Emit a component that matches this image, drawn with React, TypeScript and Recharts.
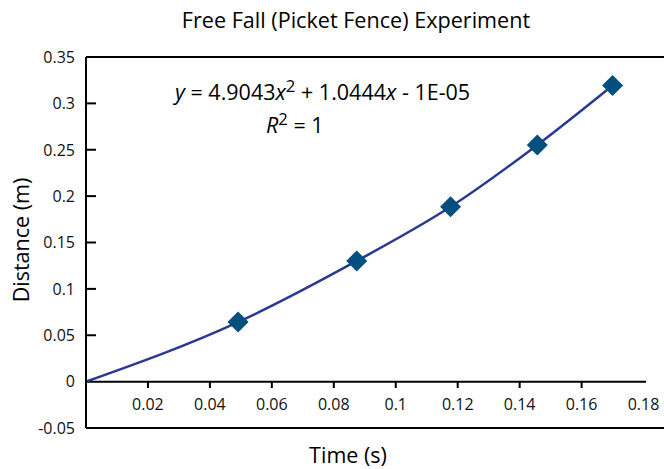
import { ComposedChart, Line, Scatter, XAxis, YAxis, ReferenceLine } from 'recharts';

// measured picket-fence points
const times = [0.0491, 0.0874, 0.1177, 0.1457, 0.17];
const distances = [0.0642, 0.1301, 0.1885, 0.2552, 0.3193];
// trend line runs from the origin through the measurements
const trendTimes = [0, 0.0491, 0.0874, 0.1177, 0.1457, 0.17];
const trendDistances = [0, 0.0642, 0.1301, 0.1885, 0.2552, 0.3193];

const xTicks = [0.02, 0.04, 0.06, 0.08, 0.1, 0.12, 0.14, 0.16, 0.18];
const yTicks = [-0.05, 0, 0.05, 0.1, 0.15, 0.2, 0.25, 0.3, 0.35];

const points = times.map((t, i) => ({ t, d: distances[i] }));
const trend = trendTimes.map((t, i) => ({ t, d: trendDistances[i] }));

const FONT = '"Open Sans", sans-serif';
const ZERO_OFFSET = 47; // px between bottom frame (-0.05) and the y=0 axis

function Diamond(props: any) {
  const { cx, cy } = props;
  const r = 10.5;
  return <polygon points={`${cx},${cy - r} ${cx + r},${cy} ${cx},${cy + r} ${cx - r},${cy}`} fill="#00507f" />;
}

function XTick(props: any) {
  const { x, y, payload } = props;
  const zeroY = y - ZERO_OFFSET;
  const last = payload.value === 0.18;
  return (
    <g>
      {!last && <line x1={x} x2={x} y1={zeroY} y2={zeroY + 7} stroke="#000" strokeWidth={2} />}
      <text x={x} y={zeroY + 29} textAnchor="middle" fontSize={16} fontFamily={FONT} fill="#111">
        {payload.value}
      </text>
    </g>
  );
}

function YTick(props: any) {
  const { x, y, payload } = props;
  const edge = payload.value === 0.35 || payload.value === -0.05 || payload.value === 0;
  return (
    <g>
      {!edge && <line x1={x} x2={x + 10} y1={y} y2={y} stroke="#000" strokeWidth={2} />}
      <text x={x - 11} y={y} dy="0.36em" textAnchor="end" fontSize={16} fontFamily={FONT} fill="#111">
        {payload.value}
      </text>
    </g>
  );
}

const supStyle = { fontSize: '0.78em', lineHeight: 0, verticalAlign: '0.45em' };

export default function App() {
  return (
    <div style={{ position: 'absolute', left: 0, top: 0, width: 664, height: 469, background: '#fff', fontFamily: FONT, color: '#000' }}>
      <ComposedChart width={664} height={469} margin={{ top: 57, right: 0, bottom: 0, left: 0 }}>
        <XAxis
          dataKey="t"
          type="number"
          domain={[0, 0.1866]}
          allowDataOverflow
          ticks={xTicks}
          tickSize={0}
          tickMargin={0}
          height={41}
          tick={<XTick />}
          axisLine={{ stroke: '#000', strokeWidth: 2 }}
          tickLine={false}
        />
        <YAxis
          type="number"
          domain={[-0.05, 0.35]}
          ticks={yTicks}
          width={86}
          tickSize={0}
          tickMargin={0}
          tick={<YTick />}
          axisLine={{ stroke: '#000', strokeWidth: 2 }}
          tickLine={false}
        />
        <ReferenceLine y={0.35} stroke="#000" strokeWidth={2} />
        <ReferenceLine segment={[{ x: 0, y: 0 }, { x: 0.1808, y: 0 }]} stroke="#000" strokeWidth={2} />
        <Line
          data={trend}
          dataKey="d"
          type="monotone"
          stroke="#2b3990"
          strokeWidth={2.5}
          dot={false}
          isAnimationActive={false}
        />
        <Scatter data={points} dataKey="d" shape={<Diamond />} isAnimationActive={false} />
      </ComposedChart>

      <div style={{ position: 'absolute', left: 0, top: 8, width: 712, textAlign: 'center', fontSize: 21.6, lineHeight: '24px' }}>
        Free Fall (Picket Fence) Experiment
      </div>
      <div style={{ position: 'absolute', left: 0, top: 443, width: 696, textAlign: 'center', fontSize: 21.5, lineHeight: '24px' }}>
        Time (s)
      </div>
      <div
        style={{
          position: 'absolute',
          left: -79,
          top: 228,
          width: 200,
          height: 24,
          textAlign: 'center',
          fontSize: 21.5,
          lineHeight: '24px',
          transform: 'rotate(-90deg)',
        }}
      >
        Distance (m)
      </div>
      <div style={{ position: 'absolute', left: 175, top: 80, fontSize: 21.5, lineHeight: '24px', whiteSpace: 'nowrap' }}>
        <i>y</i> = 4.9043<i>x</i>
        <span style={supStyle}>2</span> + 1.0444<i>x</i> - 1E-05
      </div>
      <div style={{ position: 'absolute', left: 266, top: 113, fontSize: 21.5, lineHeight: '24px', whiteSpace: 'nowrap' }}>
        <i>R</i>
        <span style={supStyle}>2</span> = 1
      </div>
    </div>
  );
}
